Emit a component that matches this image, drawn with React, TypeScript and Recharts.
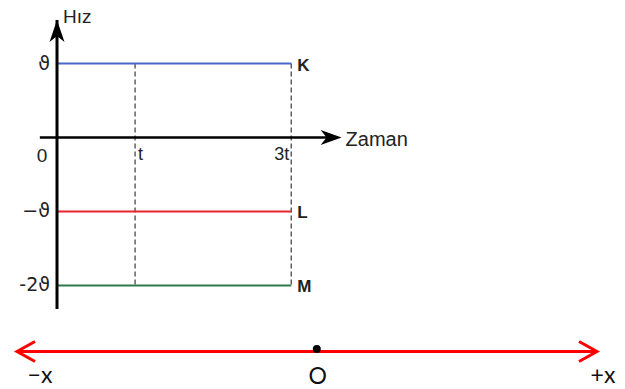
import React from "react";
import { LineChart, Line, XAxis, YAxis, ReferenceLine, ReferenceDot } from "recharts";

// ---- data ----
const timeTicks = [1, 3];
const timeTickLabels = ["t", "3t"];
const speedTicks = [1, -1, -2];
const speedTickLabels = ["ϑ", "−ϑ", "-2ϑ"];
const seriesNames = ["K", "L", "M"];
const seriesValues = [1, -1, -2];
const seriesStart = 0;
const seriesEnd = 3;
const seriesColors = ["#4a68c8", "#e8232b", "#2b7a4a"];
const timeDomain: [number, number] = [0, 3.65];
const speedDomain: [number, number] = [-2.318, 1.588];
const xAxisStart = -0.22;
const xAxisTip = 3.645;
const numberLineEnds = [-1.07, 1];
const numberLineLabels = ["−x", "O", "+x"];

const seriesData = seriesValues.map((v) => [
  { t: seriesStart, v },
  { t: seriesEnd, v },
]);
const numberLineData = numberLineEnds.map((p) => ({ p, y: 0 }));

const SANS = "'Liberation Sans', Arial, Helvetica, sans-serif";
const TXT = "#222";

const YTick = (props: any) => {
  const { x, y, payload } = props;
  const i = speedTicks.indexOf(payload.value);
  return (
    <text x={x + 1} y={y} dy={6} textAnchor="end" fontSize={19} fill={TXT} fontFamily="'DejaVu Sans', 'Liberation Sans', sans-serif">
      {speedTickLabels[i]}
    </text>
  );
};

export default function App() {
  return (
    <div style={{ position: "absolute", left: 0, top: 0, width: 625, height: 389, background: "#fff" }}>
      <div style={{ position: "absolute", left: 0, top: 0 }}>
        <LineChart width={625} height={320} margin={{ top: 20, right: 283, bottom: 11, left: 0 }}>
          <XAxis type="number" dataKey="t" domain={timeDomain} hide allowDataOverflow />
          <YAxis
            type="number"
            domain={speedDomain}
            ticks={speedTicks}
            width={57}
            axisLine={{ stroke: "#000", strokeWidth: 3 }}
            tickLine={false}
            tick={<YTick />}
            allowDataOverflow
          />
          {timeTicks.map((tt) => (
            <ReferenceLine
              key={"d" + tt}
              segment={[
                { x: tt, y: seriesValues[0] },
                { x: tt, y: seriesValues[2] },
              ]}
              stroke="#555"
              strokeWidth={1.4}
              strokeDasharray="5 3"
              ifOverflow="visible"
            />
          ))}
          <ReferenceLine
            segment={[
              { x: xAxisStart, y: 0 },
              { x: xAxisTip - 0.1, y: 0 },
            ]}
            stroke="#000"
            strokeWidth={2.5}
            ifOverflow="visible"
          />
          {seriesNames.map((n, i) => (
            <Line
              key={n}
              data={seriesData[i]}
              dataKey="v"
              type="linear"
              stroke={seriesColors[i]}
              strokeWidth={2}
              dot={false}
              activeDot={false}
              isAnimationActive={false}
            />
          ))}
          {seriesNames.map((n, i) => (
            <ReferenceDot
              key={"l" + n}
              x={seriesEnd}
              y={seriesValues[i]}
              ifOverflow="visible"
              shape={(p: any) => (
                <text x={p.cx + 6} y={p.cy + 7} fontSize={17} fontWeight="bold" fill={TXT} fontFamily={SANS}>
                  {n}
                </text>
              )}
            />
          ))}
          {timeTicks.map((tt, i) => (
            <ReferenceDot
              key={"t" + tt}
              x={tt}
              y={0}
              ifOverflow="visible"
              shape={(p: any) => (
                <text
                  x={i === 0 ? p.cx + 3 : p.cx - 2}
                  y={p.cy + 23}
                  textAnchor={i === 0 ? "start" : "end"}
                  fontSize={18}
                  fill={TXT}
                  fontFamily={SANS}
                >
                  {timeTickLabels[i]}
                </text>
              )}
            />
          ))}
          <ReferenceDot
            x={0}
            y={0}
            ifOverflow="visible"
            shape={(p: any) => (
              <text x={p.cx - 15} y={p.cy + 25} textAnchor="middle" fontSize={19} fill={TXT} fontFamily={SANS}>
                0
              </text>
            )}
          />
          <ReferenceDot
            x={0}
            y={speedDomain[1]}
            ifOverflow="visible"
            shape={(p: any) => (
              <g>
                <path
                  d={`M${p.cx},${p.cy} L${p.cx + 7.5},${p.cy + 22} L${p.cx},${p.cy + 16} L${p.cx - 7.5},${p.cy + 22} Z`}
                  fill="#000"
                />
                <text x={p.cx + 6} y={p.cy + 3} fontSize={19} fill={TXT} fontFamily={SANS}>
                  Hız
                </text>
              </g>
            )}
          />
          <ReferenceDot
            x={xAxisTip}
            y={0}
            ifOverflow="visible"
            shape={(p: any) => (
              <g>
                <path
                  d={`M${p.cx},${p.cy} L${p.cx - 21},${p.cy - 7.5} L${p.cx - 15},${p.cy} L${p.cx - 21},${p.cy + 7.5} Z`}
                  fill="#000"
                />
                <text x={p.cx + 4} y={p.cy + 9} fontSize={20} fill={TXT} fontFamily={SANS}>
                  Zaman
                </text>
              </g>
            )}
          />
        </LineChart>
      </div>
      <div style={{ position: "absolute", left: 0, top: 320 }}>
        <LineChart width={625} height={69} margin={{ top: 0, right: 28, bottom: 6, left: 17 }}>
          <XAxis type="number" dataKey="p" domain={[numberLineEnds[0], numberLineEnds[1]]} hide />
          <YAxis type="number" domain={[-1, 1]} hide />
          <Line
            data={numberLineData}
            dataKey="y"
            type="linear"
            stroke="#ff0000"
            strokeWidth={3}
            dot={false}
            activeDot={false}
            isAnimationActive={false}
          />
          {numberLineEnds.map((e, i) => (
            <ReferenceDot
              key={"a" + i}
              x={e}
              y={0}
              ifOverflow="visible"
              shape={(p: any) => {
                const s = i === 0 ? 1 : -1;
                return (
                  <g>
                    <path
                      d={`M${p.cx + s * 18},${p.cy - 10} L${p.cx},${p.cy} L${p.cx + s * 18},${p.cy + 10}`}
                      fill="none"
                      stroke="#ff0000"
                      strokeWidth={3}
                    />
                    <text
                      x={i === 0 ? p.cx + 23 : p.cx + 6}
                      y={p.cy + 31}
                      textAnchor="middle"
                      fontSize={23}
                      fill="#111"
                      fontFamily="Lato, 'Open Sans', sans-serif"
                    >
                      {numberLineLabels[i === 0 ? 0 : 2]}
                    </text>
                  </g>
                );
              }}
            />
          ))}
          <ReferenceDot
            x={0}
            y={0}
            ifOverflow="visible"
            shape={(p: any) => (
              <g>
                <circle cx={p.cx} cy={p.cy - 2.5} r={4} fill="#000" />
                <text
                  x={p.cx + 1}
                  y={p.cy + 32}
                  textAnchor="middle"
                  fontSize={23}
                  fill="#111"
                  fontFamily="Lato, 'Open Sans', sans-serif"
                >
                  {numberLineLabels[1]}
                </text>
              </g>
            )}
          />
        </LineChart>
      </div>
    </div>
  );
}
